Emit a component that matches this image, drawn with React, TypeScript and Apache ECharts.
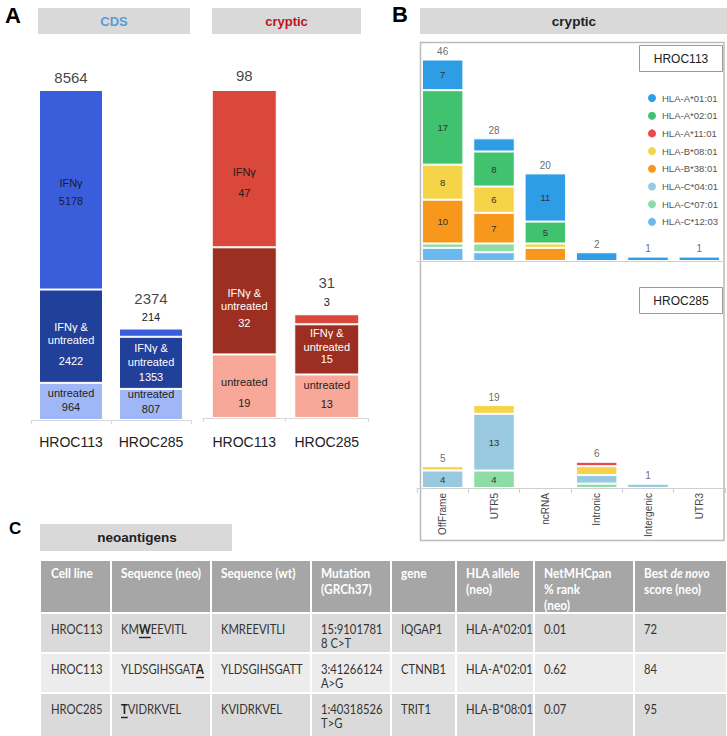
import React, { useEffect, useRef } from 'react';
import * as echarts from 'echarts';

const FONT = '"Liberation Sans", Arial, sans-serif';
const TFONT = 'Lato, sans-serif';

// ---------- Panel A ----------
const cellLines = ['HROC113', 'HROC285'];
const cdsUntreated = [964, 807];
const cdsBoth = [2422, 1353];
const cdsIfn = [5178, 214];
const cdsTotals = [8564, 2374];
const crypUntreated = [19, 13];
const crypBoth = [32, 15];
const crypIfn = [47, 3];
const crypTotals = [98, 31];

// ---------- Panel B ----------
const regions = ['OffFrame', 'UTR5', 'ncRNA', 'Intronic', 'Intergenic', 'UTR3'];
const alleles = ['HLA-A*01:01', 'HLA-A*02:01', 'HLA-A*11:01', 'HLA-B*08:01', 'HLA-B*38:01', 'HLA-C*04:01', 'HLA-C*07:01', 'HLA-C*12:03'];
const alleleColors = ['#2d9de6', '#40c26e', '#ea4a4a', '#f5d547', '#f7981d', '#99c9de', '#8edca6', '#6ab8ee'];

const h113_A0101 = [7, 3, 11, 2, 1, 1];
const h113_A0201 = [17, 8, 5, 0, 0, 0];
const h113_A1101 = [0, 0, 0, 0, 0, 0];
const h113_B0801 = [8, 6, 1, 0, 0, 0];
const h113_B3801 = [10, 7, 3, 0, 0, 0];
const h113_C0401 = [0, 0, 0, 0, 0, 0];
const h113_C0701 = [1, 2, 0, 0, 0, 0];
const h113_C1203 = [3, 2, 0, 0, 0, 0];
const h113Totals = [46, 28, 20, 2, 1, 1];

const h285_A0101 = [0, 0, 0, 0, 0, 0];
const h285_A0201 = [0, 0, 0, 0, 0, 0];
const h285_A1101 = [0, 0, 0, 1, 0, 0];
const h285_B0801 = [1, 2, 0, 2, 0, 0];
const h285_B3801 = [0, 0, 0, 0, 0, 0];
const h285_C0401 = [4, 13, 0, 2, 1, 0];
const h285_C0701 = [0, 4, 0, 1, 0, 0];
const h285_C1203 = [0, 0, 0, 0, 0, 0];
const h285Totals = [5, 19, 0, 6, 1, 0];

const h113Rows = [h113_A0101, h113_A0201, h113_A1101, h113_B0801, h113_B3801, h113_C0401, h113_C0701, h113_C1203];
const h285Rows = [h285_A0101, h285_A0201, h285_A1101, h285_B0801, h285_B3801, h285_C0401, h285_C0701, h285_C1203];

// ---------- Panel C ----------
const tableHeaders = ['Cell line', 'Sequence (neo)', 'Sequence (wt)', 'Mutation\n(GRCh37)', 'gene', 'HLA allele\n(neo)', 'NetMHCpan\n% rank\n(neo)', 'Best de novo\nscore (neo)'];
const tCellLine = ['HROC113', 'HROC113', 'HROC285'];
const tSeqNeo = ['KMWEEVITL', 'YLDSGIHSGATA', 'TVIDRKVEL'];
const tMutPos = [2, 11, 0];
const tSeqWt = ['KMREEVITLI', 'YLDSGIHSGATT', 'KVIDRKVEL'];
const tMutation = ['15:9101781\n8 C>T', '3:41266124\nA>G', '1:40318526\nT>G'];
const tGene = ['IQGAP1', 'CTNNB1', 'TRIT1'];
const tHla = ['HLA-A*02:01', 'HLA-A*02:01', 'HLA-B*08:01'];
const tRank = ['0.01', '0.62', '0.07'];
const tScore = ['72', '84', '95'];

function measure(t: string, font: string) {
  const c = document.createElement('canvas').getContext('2d') as CanvasRenderingContext2D;
  c.font = font;
  return c.measureText(t).width;
}

function lab(lines: string[], lhs: number[], off: number, color: string, extra: any = {}) {
  const rich: any = {};
  lines.forEach((_, i) => {
    rich['l' + i] = { lineHeight: lhs[i], fontSize: 11, color, fontFamily: FONT };
  });
  return {
    show: true,
    position: 'inside',
    offset: [0, off],
    formatter: lines.map((l, i) => `{l${i}|${l}}`).join('\n'),
    rich,
    ...extra,
  };
}

function buildOption() {
  const series: any[] = [];
  const border = { borderColor: '#fff', borderWidth: 1 };

  // ----- A: CDS -----
  const cdsUntCfg = [{ lh: [14, 14], off: -1 }, { lh: [15, 15], off: -3 }];
  const cdsBothCfg = [{ lh: [13, 13, 29], off: 12 }, { lh: [14, 14, 16], off: 0 }];
  series.push({
    type: 'bar', name: 'cds-untreated', stack: 'cds', xAxisIndex: 0, yAxisIndex: 0, barWidth: 64,
    itemStyle: { color: '#9fb7f7', ...border },
    data: cdsUntreated.map((v, i) => ({ value: v, label: lab(['untreated', String(v)], cdsUntCfg[i].lh, cdsUntCfg[i].off, '#222') })),
  });
  series.push({
    type: 'bar', name: 'cds-both', stack: 'cds', xAxisIndex: 0, yAxisIndex: 0, barWidth: 64,
    itemStyle: { color: '#21409a', ...border },
    data: cdsBoth.map((v, i) => ({ value: v, label: lab(['IFNγ &', 'untreated', String(v)], cdsBothCfg[i].lh, cdsBothCfg[i].off, '#fff') })),
  });
  series.push({
    type: 'bar', name: 'cds-ifn', stack: 'cds', xAxisIndex: 0, yAxisIndex: 0, barWidth: 64,
    itemStyle: { color: '#3a5ddb', ...border },
    data: cdsIfn.map((v, i) => ({
      value: v,
      label: i === 0
        ? lab(['IFNγ', String(v)], [18, 18], 2, '#1a1a2a')
        : lab([String(v)], [13], 0, '#222', { position: 'top', distance: 5 }),
    })),
  });
  series.push({
    type: 'scatter', name: 'cds-total', xAxisIndex: 0, yAxisIndex: 0, symbolSize: 0, z: 10,
    data: cdsTotals.map((v, i) => ({ value: v, label: { distance: [5, 23][i] } })),
    label: { show: true, position: 'top', fontSize: 15, color: '#111', fontFamily: FONT, formatter: (p: any) => String(Array.isArray(p.value) ? p.value[1] : p.value) },
  });

  // ----- A: cryptic -----
  const crUntCfg = [{ lh: [21, 21], off: 6 }, { lh: [19, 19], off: -2 }];
  const crBothCfg = [{ lh: [13, 13, 21], off: 9 }, { lh: [14, 14, 11], off: -4 }];
  series.push({
    type: 'bar', name: 'cr-untreated', stack: 'cr', xAxisIndex: 1, yAxisIndex: 1, barWidth: 65,
    itemStyle: { color: '#f8a898', ...border },
    data: crypUntreated.map((v, i) => ({ value: v, label: lab(['untreated', String(v)], crUntCfg[i].lh, crUntCfg[i].off, '#222') })),
  });
  series.push({
    type: 'bar', name: 'cr-both', stack: 'cr', xAxisIndex: 1, yAxisIndex: 1, barWidth: 65,
    itemStyle: { color: '#9c2f21', ...border },
    data: crypBoth.map((v, i) => ({ value: v, label: lab(['IFNγ &', 'untreated', String(v)], crBothCfg[i].lh, crBothCfg[i].off, '#fff') })),
  });
  series.push({
    type: 'bar', name: 'cr-ifn', stack: 'cr', xAxisIndex: 1, yAxisIndex: 1, barWidth: 65,
    itemStyle: { color: '#d9483a', ...border },
    data: crypIfn.map((v, i) => ({
      value: v,
      label: i === 0
        ? lab(['IFNγ', String(v)], [21, 21], 14, '#2a1a1a')
        : lab([String(v)], [13], 0, '#222', { position: 'top', distance: 6 }),
    })),
  });
  series.push({
    type: 'scatter', name: 'cr-total', xAxisIndex: 1, yAxisIndex: 1, symbolSize: 0, z: 10,
    data: crypTotals.map((v, i) => ({ value: v, label: { distance: [7, 24][i] } })),
    label: { show: true, position: 'top', fontSize: 15, color: '#111', fontFamily: FONT, formatter: (p: any) => String(Array.isArray(p.value) ? p.value[1] : p.value) },
  });

  // ----- B -----
  const bLabel = { show: true, position: 'inside', fontSize: 9.5, color: '#333', fontFamily: FONT, formatter: (p: any) => (p.value >= 4 ? String(p.value) : '') };
  const stackOrder = [7, 6, 5, 4, 3, 2, 1, 0];
  [[h113Rows, 2, 'b113'], [h285Rows, 3, 'b285']].forEach(([rows, idx, st]: any) => {
    stackOrder.forEach((k) => {
      series.push({
        type: 'bar', name: alleles[k], stack: st, xAxisIndex: idx, yAxisIndex: idx, barWidth: 41.5,
        itemStyle: { color: alleleColors[k], ...border },
        label: bLabel,
        data: rows[k].map((v: number) => (v > 0 ? v : '-')),
      });
    });
  });
  [[h113Totals, 2], [h285Totals, 3]].forEach(([tot, idx]: any) => {
    series.push({
      type: 'scatter', name: 'tot' + idx, xAxisIndex: idx, yAxisIndex: idx, symbolSize: 0, z: 10,
      data: tot.map((v: number) => (v > 0 ? v : '-')),
      label: { show: true, position: 'top', distance: 3, fontSize: 10, color: '#444', fontFamily: FONT, formatter: (p: any) => String(Array.isArray(p.value) ? p.value[1] : p.value) },
    });
  });

  // ----- graphics -----
  const g: any[] = [];
  const rect = (x: number, y: number, w: number, h: number, style: any) => ({ type: 'rect', silent: true, shape: { x, y, width: w, height: h }, style });
  const text = (x: number, y: number, t: string, style: any, extra: any = {}) => ({ type: 'text', silent: true, x, y, ...extra, style: { text: t, fontFamily: FONT, ...style } });

  // panel letters
  g.push(text(5, 15, 'A', { fontSize: 22, fontWeight: 'bold', fill: '#000', verticalAlign: 'middle' }));
  g.push(text(392, 14, 'B', { fontSize: 22, fontWeight: 'bold', fill: '#000', verticalAlign: 'middle' }));
  g.push(text(9, 528, 'C', { fontSize: 17, fontWeight: 'bold', fill: '#000', verticalAlign: 'middle' }));

  // headers
  g.push(rect(38, 8, 152, 26, { fill: '#d9d9d9' }));
  g.push(text(114, 21, 'CDS', { fontSize: 13, fontWeight: 'bold', fill: '#5b9bd5', align: 'center', verticalAlign: 'middle' }));
  g.push(rect(212, 8, 149, 26, { fill: '#d9d9d9' }));
  g.push(text(286.5, 21, 'cryptic', { fontSize: 13, fontWeight: 'bold', fill: '#c0141c', align: 'center', verticalAlign: 'middle' }));
  g.push(rect(420, 8, 307, 26, { fill: '#d9d9d9' }));
  g.push(text(574, 21, 'cryptic', { fontSize: 13.5, fontWeight: 'bold', fill: '#222', align: 'center', verticalAlign: 'middle' }));
  g.push(rect(40, 524, 192, 27, { fill: '#d9d9d9' }));
  g.push(text(137, 537.5, 'neoantigens', { fontSize: 13.5, fontWeight: 'bold', fill: '#222', align: 'center', verticalAlign: 'middle' }));

  // panel B frame and boxes
  g.push(rect(420.5, 42.5, 303.5, 498, { fill: 'transparent', stroke: '#bbb', lineWidth: 1.5 }));
  g.push(rect(639.5, 45.5, 83, 26, { fill: '#fff', stroke: '#999', lineWidth: 1 }));
  g.push(text(681, 58.5, 'HROC113', { fontSize: 12, fill: '#222', align: 'center', verticalAlign: 'middle' }));
  g.push(rect(639.5, 287.5, 83, 26, { fill: '#fff', stroke: '#999', lineWidth: 1 }));
  g.push(text(681, 300.5, 'HROC285', { fontSize: 12, fill: '#222', align: 'center', verticalAlign: 'middle' }));

  // table
  const colB = [41, 111, 211, 311, 391, 456, 534, 634, 727];
  const headTop = 561, headBot = 612;
  const rowTops = [614, 654, 694];
  const rowBots = [652, 692, 736];
  const rowFills = ['#dadada', '#ececec', '#dadada'];
  const TS = 12.5;
  const SX = 0.9;
  for (let c = 0; c < 8; c++) {
    const x = colB[c] + (c === 0 ? 0 : 1);
    const w = colB[c + 1] - x - 1;
    g.push(rect(x, headTop, w, headBot - headTop, { fill: '#a6a6a6' }));
    for (let r = 0; r < 3; r++) g.push(rect(x, rowTops[r], w, rowBots[r] - rowTops[r], { fill: rowFills[r] }));
  }
  const hStyle = { fontFamily: TFONT, fontSize: TS, fontWeight: 'bold', fill: '#fff', lineHeight: 16, verticalAlign: 'top' };
  tableHeaders.forEach((h, c) => {
    const x = colB[c] + 10;
    if (h.indexOf('de novo') >= 0) {
      const base = { fontFamily: TFONT, fontSize: TS, fontWeight: 'bold', fill: '#fff', lineHeight: 16 };
      g.push({
        type: 'text', silent: true, x, y: headTop + 4, scaleX: 0.95,
        style: { text: '{n|Best }{i|de novo}\n{n|score (neo)}', verticalAlign: 'top', rich: { n: base, i: { ...base, fontStyle: 'italic' } } },
      });
    } else {
      g.push(text(x, headTop + 4, h, hStyle, { scaleX: 0.95 }));
    }
  });
  const cStyle = { fontFamily: TFONT, fontSize: TS, fill: '#333', lineHeight: 14, verticalAlign: 'top' };
  const cols = [tCellLine, null, tSeqWt, tMutation, tGene, tHla, tRank, tScore];
  for (let r = 0; r < 3; r++) {
    const y = rowTops[r] + 8;
    cols.forEach((col, c) => {
      if (col) g.push(text(colB[c] + 10, y, col[r], cStyle, { scaleX: SX }));
    });
    const s = tSeqNeo[r];
    const i = tMutPos[r];
    const pre = s.slice(0, i), mid = s[i], post = s.slice(i + 1);
    const x = colB[1] + 10;
    const n = { fontFamily: TFONT, fontSize: TS, fill: '#333', lineHeight: 14 };
    const b = { ...n, fontWeight: 'bold', fill: '#222' };
    const parts = (pre ? `{n|${pre}}` : '') + `{b|${mid}}` + (post ? `{n|${post}}` : '');
    g.push({ type: 'text', silent: true, x, y, scaleX: SX, style: { text: parts, verticalAlign: 'top', rich: { n, b } } });
    const x0 = x + measure(pre, `${TS}px Lato`) * SX;
    const w = measure(mid, `bold ${TS}px Lato`) * SX;
    g.push({ type: 'line', silent: true, shape: { x1: x0, y1: y + 15.5, x2: x0 + w, y2: y + 15.5 }, style: { stroke: '#222', lineWidth: 1.4 } });
  }

  const axisBase = (grid: number, data: string[]) => ({ type: 'category', gridIndex: grid, data });

  return {
    animation: false,
    backgroundColor: '#fff',
    grid: [
      { left: 31, top: 90, width: 160, height: 330, outerBoundsMode: 'none' },
      { left: 203, top: 90, width: 165, height: 328, outerBoundsMode: 'none' },
      { left: 417, top: 42, width: 308, height: 219, outerBoundsMode: 'none' },
      { left: 417, top: 261, width: 308, height: 227, outerBoundsMode: 'none' },
    ],
    xAxis: [
      { ...axisBase(0, cellLines), axisLine: { lineStyle: { color: '#d8d8d8' } }, axisTick: { show: true, length: 4, lineStyle: { color: '#d8d8d8' } }, axisLabel: { interval: 0, hideOverlap: false, fontSize: 14, color: '#222', margin: 15, fontFamily: FONT } },
      { ...axisBase(1, cellLines), axisLine: { lineStyle: { color: '#d8d8d8' } }, axisTick: { show: true, length: 4, lineStyle: { color: '#d8d8d8' } }, axisLabel: { interval: 0, hideOverlap: false, fontSize: 14, color: '#222', margin: 17, fontFamily: FONT } },
      { ...axisBase(2, regions), axisLine: { lineStyle: { color: '#cfcfcf' } }, axisTick: { show: false }, axisLabel: { show: false } },
      { ...axisBase(3, regions), axisLine: { lineStyle: { color: '#cfcfcf' } }, axisTick: { show: true, length: 5, lineStyle: { color: '#cfcfcf' } }, axisLabel: { interval: 0, rotate: 90, fontSize: 10, color: '#444', margin: 5, fontFamily: FONT } },
    ],
    yAxis: [
      { type: 'value', gridIndex: 0, min: 0, max: 8564, show: false, splitLine: { show: false } },
      { type: 'value', gridIndex: 1, min: 0, max: 98, show: false, splitLine: { show: false } },
      { type: 'value', gridIndex: 2, min: 0, max: 50, show: false, splitLine: { show: false } },
      { type: 'value', gridIndex: 3, min: 0, max: 52, show: false, splitLine: { show: false } },
    ],
    legend: {
      data: alleles, orient: 'vertical', left: 641, top: 87, icon: 'circle', itemWidth: 10, itemHeight: 10, itemGap: 5.7,
      selectedMode: false, textStyle: { fontSize: 9.5, color: '#555', fontFamily: FONT, lineHeight: 10 },
    },
    series,
    graphic: g,
  };
}

export default function App() {
  const ref = useRef<HTMLDivElement>(null);
  useEffect(() => {
    const chart = echarts.init(ref.current as HTMLDivElement, null, { renderer: 'svg' });
    chart.setOption(buildOption() as any);
    return () => chart.dispose();
  }, []);
  return <div ref={ref} style={{ position: 'absolute', left: 0, top: 0, width: 727, height: 736, background: '#fff' }} />;
}
